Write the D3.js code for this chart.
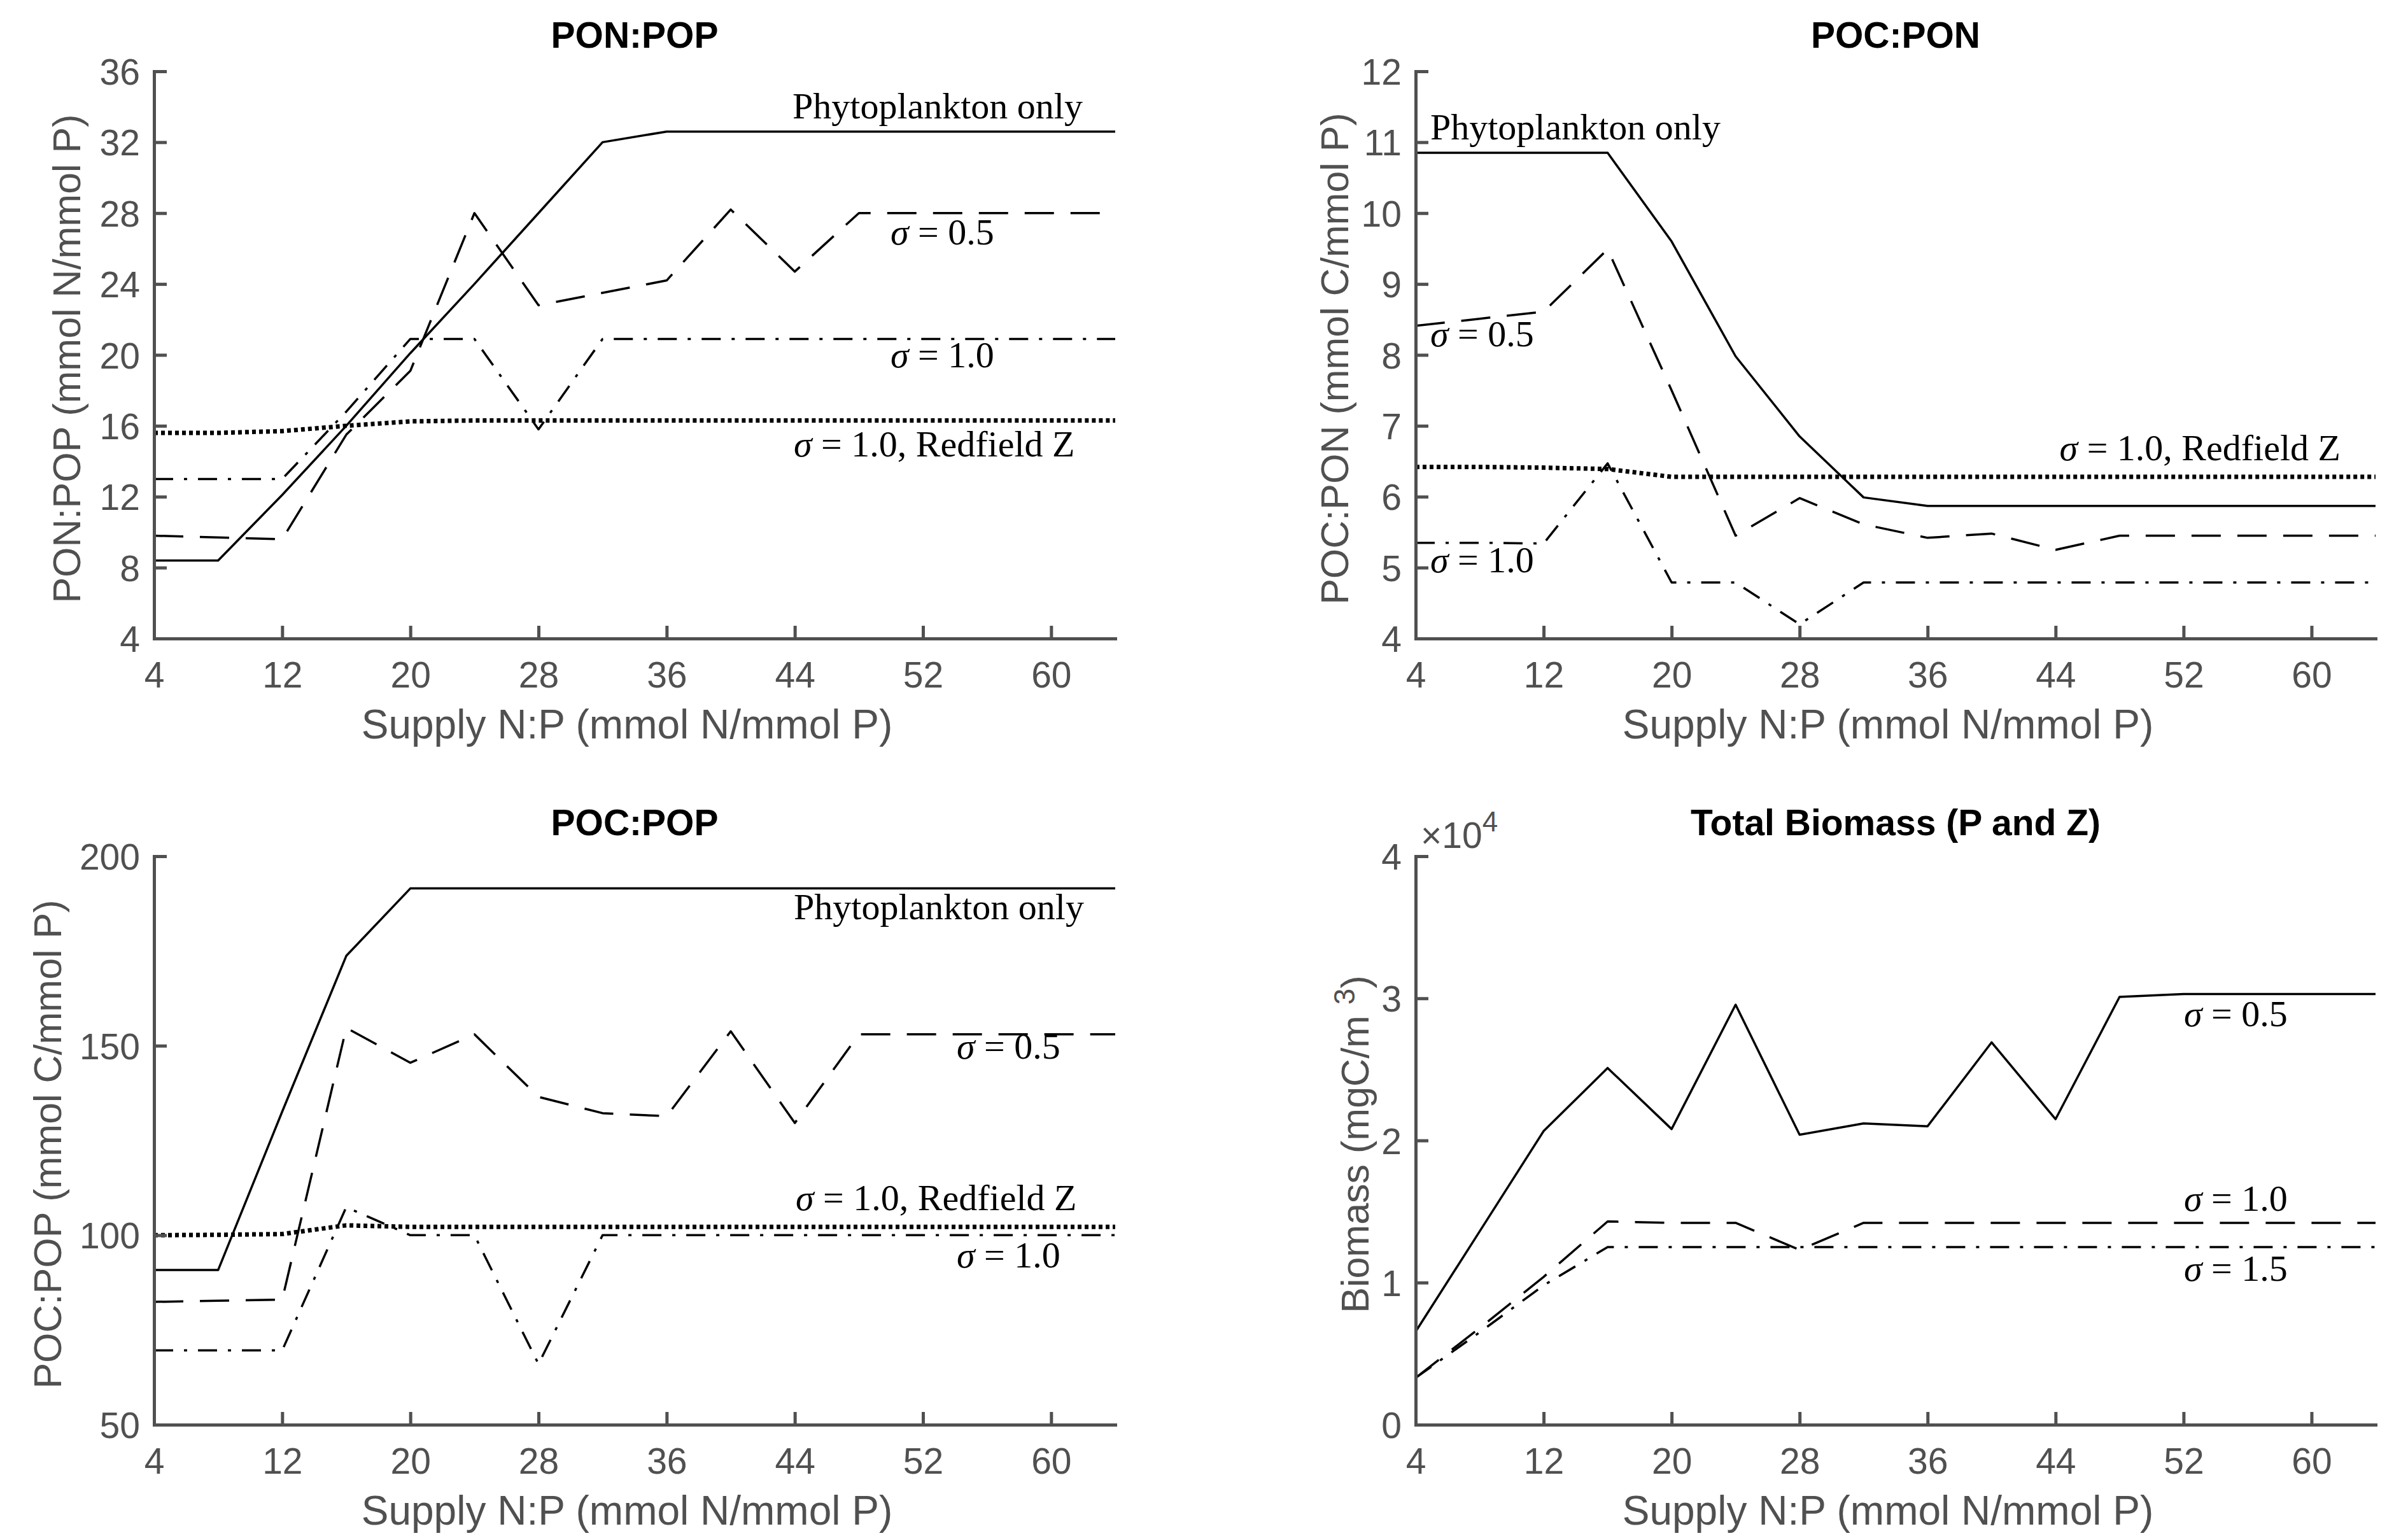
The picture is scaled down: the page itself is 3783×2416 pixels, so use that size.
<!DOCTYPE html>
<html>
<head>
<meta charset="utf-8">
<script src="https://cdn.jsdelivr.net/npm/d3@7"></script>
<style>
  html, body { margin: 0; padding: 0; background: #fff; }
  svg { display: block; }
</style>
</head>
<body>
<svg id="chart" width="3783" height="2416"></svg>
<script>
// ---------------- DATA ----------------
const supplyNP = [4, 8, 12, 16, 20, 24, 28, 32, 36, 40, 44, 48, 52, 56, 60, 64];
const xTicks = [4, 12, 20, 28, 36, 44, 52, 60];

// PON:POP
const ponpopPhyto    = [8.4, 8.4, 12.1, 16.0, 20.1, 24.0, 28.0, 32.0, 32.6, 32.6, 32.6, 32.6, 32.6, 32.6, 32.6, 32.6];
const ponpopSig05    = [9.8, 9.7, 9.6, 15.5, 19.1, 28.0, 22.8, 23.5, 24.2, 28.2, 24.7, 28.0, 28.0, 28.0, 28.0, 28.0];
const ponpopSig10    = [13.0, 13.0, 13.0, 16.8, 20.9, 20.9, 15.8, 20.9, 20.9, 20.9, 20.9, 20.9, 20.9, 20.9, 20.9, 20.9];
const ponpopRedfield = [15.6, 15.6, 15.7, 16.0, 16.25, 16.3, 16.3, 16.3, 16.3, 16.3, 16.3, 16.3, 16.3, 16.3, 16.3, 16.3];
const ponpopTicks = [4, 8, 12, 16, 20, 24, 28, 32, 36];

// POC:PON
const pocponPhyto    = [10.85, 10.85, 10.85, 10.85, 9.6, 7.98, 6.85, 5.99, 5.87, 5.87, 5.87, 5.87, 5.87, 5.87, 5.87, 5.87];
const pocponSig05    = [8.41, 8.51, 8.61, 9.49, 7.5, 5.45, 5.98, 5.61, 5.42, 5.48, 5.25, 5.45, 5.45, 5.45, 5.45, 5.45];
const pocponSig10    = [5.35, 5.35, 5.34, 6.47, 4.79, 4.79, 4.2, 4.79, 4.79, 4.79, 4.79, 4.79, 4.79, 4.79, 4.79, 4.79];
const pocponRedfield = [6.42, 6.42, 6.41, 6.39, 6.28, 6.28, 6.28, 6.28, 6.28, 6.28, 6.28, 6.28, 6.28, 6.28, 6.28, 6.28];
const pocponTicks = [4, 5, 6, 7, 8, 9, 10, 11, 12];

// POC:POP
const pocpopPhyto    = [90.8, 90.8, 132.6, 173.7, 191.5, 191.5, 191.5, 191.5, 191.5, 191.5, 191.5, 191.5, 191.5, 191.5, 191.5, 191.5];
const pocpopSig05    = [82.4, 82.7, 83.0, 154.7, 145.5, 153.0, 136.5, 132.2, 131.4, 153.8, 129.6, 153.0, 153.0, 153.0, 153.0, 153.0];
const pocpopSig10    = [69.6, 69.6, 69.6, 107.4, 100.0, 100.0, 66.0, 100.0, 100.0, 100.0, 100.0, 100.0, 100.0, 100.0, 100.0, 100.0];
const pocpopRedfield = [100.0, 100.1, 100.3, 102.6, 102.2, 102.2, 102.2, 102.2, 102.2, 102.2, 102.2, 102.2, 102.2, 102.2, 102.2, 102.2];
const pocpopTicks = [50, 100, 150, 200];

// Total biomass (mgC/m^3)
const biomassSig05 = [6550, 13600, 20660, 25100, 20800, 29550, 20400, 21200, 21000, 26900, 21500, 30100, 30300, 30300, 30300, 30300];
const biomassSig10 = [3300, 6800, 10400, 14300, 14200, 14200, 12300, 14200, 14200, 14200, 14200, 14200, 14200, 14200, 14200, 14200];
const biomassSig15 = [3300, 6500, 9800, 12500, 12500, 12500, 12500, 12500, 12500, 12500, 12500, 12500, 12500, 12500, 12500, 12500];
const biomassTicks = [0, 10000, 20000, 30000, 40000];

// text
const xLabel = "Supply N:P (mmol N/mmol P)";

// ---------------- LAYOUT / STYLE ----------------
const AXIS_COLOR = "#505050";
const TICK_FONT = 57, LABEL_FONT = 64, YLABEL_FONT = 61, TITLE_FONT = 57, ANNOT_FONT = 58;
const SANS = "'Liberation Sans', Arial, Helvetica, sans-serif";
const SERIF = "'Liberation Serif', 'Times New Roman', serif";
const DASH = {
  solid: null,
  dashed: "46,26",
  dashdot: "30,17,5,17",
  dotted: "6,5"
};
const WIDTH = { solid: 3.5, dashed: 3.5, dashdot: 3.5, dotted: 7 };

const svg = d3.select("#chart");

function drawPanel(p) {
  const g = svg.append("g");
  const x = d3.scaleLinear().domain([4, 64]).range([p.x0, p.x1]);
  const y = d3.scaleLinear().domain(p.yDomain).range([p.y1, p.y0]);

  // series
  const line = d3.line().x((d, i) => x(supplyNP[i])).y(d => y(d));
  p.series.forEach(s => {
    g.append("path")
      .attr("d", line(s.values))
      .attr("fill", "none")
      .attr("stroke", "#000")
      .attr("stroke-width", WIDTH[s.style])
      .attr("stroke-linejoin", "round")
      .attr("stroke-dasharray", DASH[s.style]);
  });

  // axes (MATLAB-like: inward ticks, left & bottom only)
  const xAxis = d3.axisBottom(x).tickValues(xTicks).tickSize(-20).tickSizeOuter(0).tickPadding(37);
  const yAxis = d3.axisLeft(y).tickValues(p.yTicks).tickSize(-20).tickSizeOuter(0).tickPadding(22)
    .tickFormat(p.yFormat || d3.format("d"));
  const gx = g.append("g").attr("transform", `translate(0,${p.y1})`).call(xAxis);
  const gy = g.append("g").attr("transform", `translate(${p.x0},0)`).call(yAxis);
  [gx, gy].forEach(a => {
    a.select(".domain").attr("stroke", AXIS_COLOR).attr("stroke-width", 5).attr("stroke-linecap", "square");
    a.selectAll(".tick line").attr("stroke", AXIS_COLOR).attr("stroke-width", 5);
    a.selectAll(".tick text").attr("fill", AXIS_COLOR)
      .style("font-family", SANS).style("font-size", TICK_FONT + "px");
  });
  gx.selectAll(".tick text").attr("dy", "0.71em");
  gy.selectAll(".tick text").attr("dy", "0.36em");

  // title
  g.append("text")
    .attr("x", (p.x0 + p.x1) / 2).attr("y", p.titleY)
    .attr("text-anchor", "middle")
    .style("font-family", SANS).style("font-weight", "bold").style("font-size", TITLE_FONT + "px")
    .attr("fill", "#000")
    .text(p.title);

  // x label
  g.append("text")
    .attr("x", (p.x0 + p.x1) / 2 - 12).attr("y", p.y1 + 157)
    .attr("text-anchor", "middle")
    .style("font-family", SANS).style("font-size", LABEL_FONT + "px")
    .attr("fill", AXIS_COLOR)
    .text(xLabel);

  // y label
  const yl = g.append("text")
    .attr("transform", `translate(${p.yLabelX},${(p.y0 + p.y1) / 2 + 6}) rotate(-90)`)
    .attr("text-anchor", "middle")
    .style("font-family", SANS).style("font-size", YLABEL_FONT + "px")
    .attr("fill", AXIS_COLOR);
  if (p.yLabelSup) {
    yl.append("tspan").text(p.yLabel);
    yl.append("tspan").attr("dy", -22).style("font-size", "46px").text(p.yLabelSup);
    yl.append("tspan").attr("dy", 22).text(")");
  } else {
    yl.text(p.yLabel);
  }

  // annotations
  p.annotations.forEach(a => {
    const t = g.append("text")
      .attr("x", a.ax).attr("y", a.ay)
      .attr("text-anchor", a.anchor || "start")
      .style("font-family", SERIF).style("font-size", ANNOT_FONT + "px")
      .attr("fill", "#000");
    if (a.sigma) {
      t.append("tspan").style("font-style", "italic").text("\u03C3");
      t.append("tspan").text(" = " + a.text);
    } else {
      t.text(a.text);
    }
  });

  if (p.exponent) {
    const t = g.append("text")
      .attr("x", p.x0 + 8).attr("y", p.y0 - 13)
      .style("font-family", SANS).style("font-size", TICK_FONT + "px")
      .attr("fill", AXIS_COLOR);
    t.append("tspan").text("\u00D710");
    t.append("tspan").attr("dy", -26).style("font-size", "44px").text(p.exponent);
  }
}

const panels = [
  {
    title: "PON:POP", x0: 242, x1: 1752, y0: 112, y1: 1003, titleY: 75,
    yDomain: [4, 36], yTicks: ponpopTicks,
    yLabel: "PON:POP  (mmol N/mmol P)", yLabelX: 126,
    series: [
      { values: ponpopPhyto, style: "solid" },
      { values: ponpopSig05, style: "dashed" },
      { values: ponpopSig10, style: "dashdot" },
      { values: ponpopRedfield, style: "dotted" }
    ],
    annotations: [
      { text: "Phytoplankton only", ax: 1701, ay: 186, anchor: "end" },
      { text: "0.5", sigma: true, ax: 1399, ay: 384 },
      { text: "1.0", sigma: true, ax: 1399, ay: 577 },
      { text: "1.0, Redfield Z", sigma: true, ax: 1247, ay: 717 }
    ]
  },
  {
    title: "POC:PON", x0: 2224, x1: 3732, y0: 112, y1: 1003, titleY: 75,
    yDomain: [4, 12], yTicks: pocponTicks,
    yLabel: "POC:PON  (mmol C/mmol P)", yLabelX: 2118,
    series: [
      { values: pocponPhyto, style: "solid" },
      { values: pocponSig05, style: "dashed" },
      { values: pocponSig10, style: "dashdot" },
      { values: pocponRedfield, style: "dotted" }
    ],
    annotations: [
      { text: "Phytoplankton only", ax: 2247, ay: 219 },
      { text: "0.5", sigma: true, ax: 2247, ay: 544 },
      { text: "1.0", sigma: true, ax: 2247, ay: 899 },
      { text: "1.0, Redfield Z", sigma: true, ax: 3677, ay: 723, anchor: "end" }
    ]
  },
  {
    title: "POC:POP", x0: 242, x1: 1752, y0: 1345, y1: 2238, titleY: 1312,
    yDomain: [50, 200], yTicks: pocpopTicks,
    yLabel: "POC:POP  (mmol C/mmol P)", yLabelX: 96,
    series: [
      { values: pocpopPhyto, style: "solid" },
      { values: pocpopSig05, style: "dashed" },
      { values: pocpopSig10, style: "dashdot" },
      { values: pocpopRedfield, style: "dotted" }
    ],
    annotations: [
      { text: "Phytoplankton only", ax: 1703, ay: 1444, anchor: "end" },
      { text: "0.5", sigma: true, ax: 1503, ay: 1663 },
      { text: "1.0, Redfield Z", sigma: true, ax: 1250, ay: 1901 },
      { text: "1.0", sigma: true, ax: 1503, ay: 1991 }
    ]
  },
  {
    title: "Total Biomass (P and Z)", x0: 2224, x1: 3732, y0: 1345, y1: 2238, titleY: 1312,
    yDomain: [0, 40000], yTicks: biomassTicks, yFormat: d => d / 10000,
    yLabel: "Biomass  (mgC/m ", yLabelSup: "3", yLabelX: 2150,
    exponent: "4",
    series: [
      { values: biomassSig05, style: "solid" },
      { values: biomassSig10, style: "dashed" },
      { values: biomassSig15, style: "dashdot" }
    ],
    annotations: [
      { text: "0.5", sigma: true, ax: 3431, ay: 1612 },
      { text: "1.0", sigma: true, ax: 3431, ay: 1902 },
      { text: "1.5", sigma: true, ax: 3431, ay: 2012 }
    ]
  }
];

panels.forEach(drawPanel);
</script>
</body>
</html>
